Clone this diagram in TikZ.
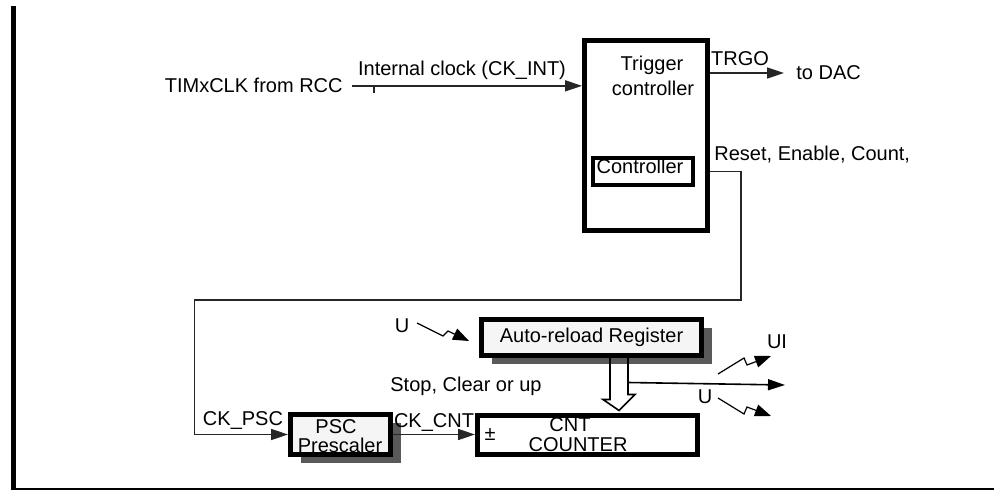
\documentclass[tikz,border=0pt]{standalone}
\usepackage{fontspec}
\setmainfont{Liberation Sans}
\usetikzlibrary{arrows.meta,shadows,calc}

\tikzset{
    blk/.style={draw, line width=2.5pt, inner sep=0pt},
    shblk/.style={blk, fill=gray!8, drop shadow={shadow xshift=5pt, shadow yshift=-4pt, fill=black!65, opacity=1}},
    lbl/.style={inner sep=0pt, anchor=base},
    wire/.style={line width=0.8pt, black!85},
    sig/.style={wire, -{Triangle[length=8.5pt, width=5.5pt]}},
    zap/.style={line width=0.6pt, -{Triangle[length=8pt, width=6pt]}},
}

\begin{document}
\begin{tikzpicture}[x=0.5pt, y=-0.5pt, font=\fontsize{10}{12}\selectfont]
    \useasboundingbox (0,0) rectangle (994,491);
    % frame
    \draw[line width=2.5pt] (13.5,6) -- (13.5,490);
    \draw[line width=1pt] (12,489) -- (994,489);

    % blocks
    \node[blk, minimum width=61.5pt, minimum height=95pt] (trig) at (646,135.5) {};
    \node[blk, line width=2pt, minimum width=50pt, minimum height=13.5pt] (ctrl) at (643,171.5) {};
    \node[shblk, minimum width=110pt, minimum height=18pt] (arl) at (591.5,337.5) {};
    \node[shblk, minimum width=50pt, minimum height=20pt] (psc) at (340.5,434.5) {};
    \node[blk, minimum width=110pt, minimum height=19.5pt] (cnt) at (587.5,435) {};

    % block texts
    \node[lbl] (trig1) at (652,71) {Trigger};
    \node[lbl] (trig2) at (653,96) {controller};
    \node[lbl] (ctrltxt) at (640,174) {Controller};
    \node[lbl] (arltxt) at (591.5,343) {Auto-reload Register};
    \node[lbl] (psc1) at (336,433) {PSC};
    \node[lbl] (psc2) at (340,452) {Prescaler};
    \node[lbl] (cnt1) at (570,431) {CNT};
    \node[lbl] (cnt2) at (578,451) {COUNTER};
    \node[lbl] (pm) at (490,440) {±};

    % signal labels
    \node[lbl, anchor=base east, inner xsep=4.5pt] (rcc) at (352,93) {TIMxCLK from RCC};
    \node[lbl] (ckint) at (462,75.5) {Internal clock (CK\_INT)};
    \node[lbl] (trgo) at (740,66) {TRGO};
    \node[lbl, anchor=base west] (dac) at (796,80) {to DAC};
    \node[lbl, anchor=base west] (rst) at (714,161) {Reset, Enable, Count,};
    \node[lbl] (ckpsc) at (243,425) {CK\_PSC};
    \node[lbl] (ckcnt) at (434,427) {CK\_CNT};
    \node[lbl, anchor=base west] (stop) at (390,391) {Stop, Clear or up};
    \node[lbl] (u1) at (402,332) {U};
    \node[lbl] (ui) at (777,348) {UI};
    \node[lbl] (u2) at (705,403) {U};

    \coordinate (dacin) at (784,73);
    \coordinate (out) at (785,385);

    % connectors
    \draw[sig] (rcc.east) -- (rcc.east -| trig.west);
    \draw[wire] (374,87) -- (374,93);
    \draw[sig] (trig.east |- dacin) -- (dacin);
    \draw[sig] (trig.east |- ctrl) -| (741,300) -- (194.5,300) |- (psc.west);
    \draw[sig] (psc.east) -- (psc.east -| cnt.west);
    \draw[wire, black] ($(arl.south)+(18.5,0)$) coordinate (ldn) -- ++(0,41.5) -- ++(-7,0)
        -- ($(ldn |- cnt.north)+(9,-2.5)$) -- ++(16,-16) -- ++(-7,0) -- ++(0,-12) coordinate (tap) -- ++(0,-29.5);
    \draw[sig, black] (tap) -- (out);

    % interrupt / event flashes
    \draw[zap] (417,323) -- (443,336) -- (448,331) -- (469,341);
    \draw[zap] (718,374) -- (744,358) -- (747,365) -- (771,356);
    \draw[zap] (718,398) -- (744,414) -- (747,407) -- (771,416);
\end{tikzpicture}
\end{document}
